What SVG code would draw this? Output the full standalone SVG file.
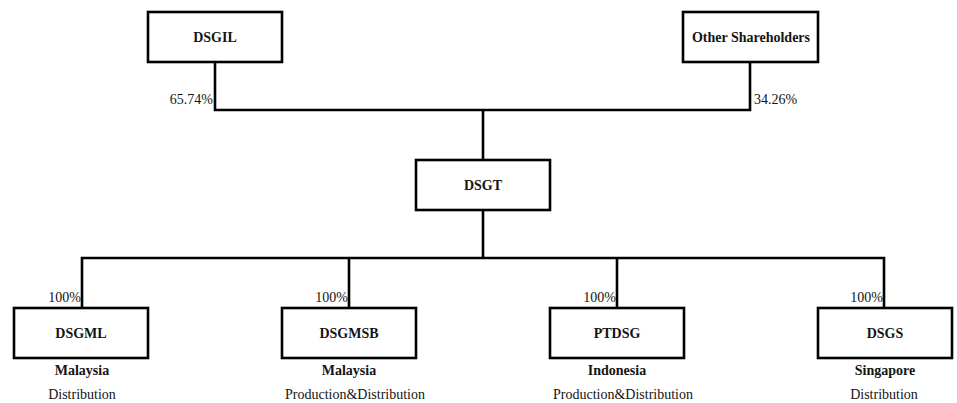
<svg xmlns="http://www.w3.org/2000/svg" width="957" height="403" viewBox="0 0 957 403" font-family="'Liberation Serif', 'Times New Roman', Times, 'DejaVu Serif', serif">
<style>
.box{fill:#fff;stroke:#000;stroke-width:2.6}
.ln{fill:none;stroke:#000;stroke-width:2.6}
text{font-family:'Liberation Serif','Times New Roman',Times,'DejaVu Serif',serif;font-size:14px;fill:#141414}
.b{font-weight:bold;text-anchor:middle}
.c{text-anchor:middle}
.r{text-anchor:end}
</style>
<rect width="957" height="403" fill="#fff"/>
<g id="connectors">
<path class="ln" d="M215,62 V110 H750 V62"/>
<path class="ln" d="M483,110 V160"/>
<path class="ln" d="M483,210 V258"/>
<path class="ln" d="M82,308 V258 H884 V308"/>
<path class="ln" d="M349,258 V308"/>
<path class="ln" d="M617,258 V308"/>
<text x="213" y="104" class="r">65.74%</text>
<text x="754" y="104">34.26%</text>
<text x="81" y="302" class="r">100%</text>
<text x="348" y="302" class="r">100%</text>
<text x="616" y="302" class="r">100%</text>
<text x="883" y="302" class="r">100%</text>
</g>
<g id="DSGIL"><rect class="box" x="148" y="12" width="134" height="50"/><text x="215" y="42" class="b">DSGIL</text></g>
<g id="OtherShareholders"><rect class="box" x="683" y="12" width="135" height="50"/><text x="751" y="42" class="b">Other Shareholders</text></g>
<g id="DSGT"><rect class="box" x="416" y="160" width="134" height="50"/><text x="483" y="190" class="b">DSGT</text></g>
<g id="DSGML"><rect class="box" x="14" y="308" width="134" height="50"/><text x="81" y="338" class="b">DSGML</text><text x="82" y="375" class="b">Malaysia</text><text x="82" y="399" class="c">Distribution</text></g>
<g id="DSGMSB"><rect class="box" x="282" y="308" width="134" height="50"/><text x="349" y="338" class="b">DSGMSB</text><text x="349" y="375" class="b">Malaysia</text><text x="355" y="399" class="c">Production&amp;Distribution</text></g>
<g id="PTDSG"><rect class="box" x="550" y="308" width="134" height="50"/><text x="617" y="338" class="b">PTDSG</text><text x="617" y="375" class="b">Indonesia</text><text x="623" y="399" class="c">Production&amp;Distribution</text></g>
<g id="DSGS"><rect class="box" x="818" y="308" width="134" height="50"/><text x="885" y="338" class="b">DSGS</text><text x="885" y="375" class="b">Singapore</text><text x="884" y="399" class="c">Distribution</text></g>
</svg>
